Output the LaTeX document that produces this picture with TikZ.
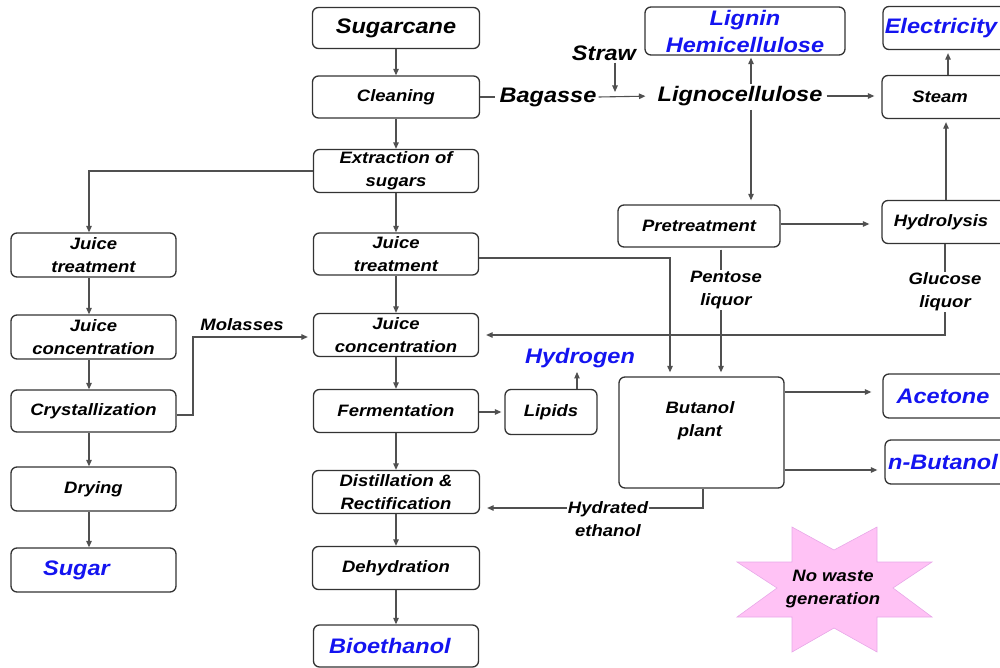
\documentclass[tikz,border=0pt]{standalone}
\usepackage{fontspec}
\setmainfont{Liberation Sans}[FakeStretch=1.12]
\usetikzlibrary{arrows.meta}
\definecolor{boxc}{HTML}{333333}
\definecolor{linec}{HTML}{505050}
\definecolor{prodblue}{HTML}{1414F0}
\definecolor{starfill}{HTML}{FFC2F5}
\definecolor{stardraw}{HTML}{E8A8E8}
\newcommand\ntxt{\fontsize{16.5}{23}\selectfont\bfseries\itshape}
\newcommand\btxt{\fontsize{21}{27}\selectfont\bfseries\itshape}
\begin{document}
\begin{tikzpicture}[x=1pt,y=-1pt,
  box/.style={draw=boxc, line width=1.3pt, rounded corners=6pt, inner sep=0pt, align=center, font=\ntxt, text=black},
  lbl/.style={align=center, font=\ntxt, inner sep=1pt},
  big/.style={font=\btxt, inner sep=2pt},
  prod/.style={font=\btxt, text=prodblue},
  arr/.style={draw=linec, line width=1.1pt, -{Triangle[length=6.5pt,width=5.5pt]}},
  ln/.style={draw=linec, line width=1.1pt}]
\useasboundingbox (0,0) rectangle (1000,668);
\clip (0,0) rectangle (1000,668);

% middle column
\node[box, font=\btxt, minimum width=167pt, minimum height=41pt] (sc) at (396,28) {Sugarcane};
\node[box, minimum width=167pt, minimum height=42pt] (cl) at (396,97) {Cleaning};
\node[box, minimum width=165pt, minimum height=43pt] (ext) at (396,171) {Extraction of\\sugars};
\node[box, minimum width=165pt, minimum height=42pt] (jtm) at (396,254) {Juice\\treatment};
\node[box, minimum width=165pt, minimum height=43pt] (jcm) at (396,335) {Juice\\concentration};
\node[box, minimum width=165pt, minimum height=43pt] (fer) at (396,411) {Fermentation};
\node[box, minimum width=167pt, minimum height=43pt] (dist) at (396,492) {Distillation \&\\Rectification};
\node[box, minimum width=167pt, minimum height=43pt] (deh) at (396,568) {Dehydration};
\node[box, prod, minimum width=165pt, minimum height=42pt] (bio) at (396,646) {Bioethanol\hspace{12pt}};

% left column
\node[box, minimum width=165pt, minimum height=44pt] (jtl) at (93.5,255) {Juice\\treatment};
\node[box, minimum width=165pt, minimum height=44pt] (jcl) at (93.5,337) {Juice\\concentration};
\node[box, minimum width=165pt, minimum height=42pt] (cry) at (93.5,411) {Crystallization};
\node[box, minimum width=165pt, minimum height=44pt] (dry) at (93.5,489) {Drying};
\node[box, prod, minimum width=165pt, minimum height=44pt] (sug) at (93.5,570) {Sugar\hspace{34pt}};

% right part
\node[box, prod, minimum width=200pt, minimum height=48pt] (lh) at (745,31) {Lignin\\Hemicellulose};
\node[box, prod, minimum width=126pt, minimum height=43pt] (elec) at (946,28) {Electricity\hspace{10pt}};
\node[box, minimum width=128pt, minimum height=43pt] (steam) at (946,97) {Steam\hspace{12pt}};
\node[box, minimum width=162pt, minimum height=42pt] (pre) at (699,226) {Pretreatment};
\node[box, minimum width=128pt, minimum height=43pt] (hyd) at (946,222) {Hydrolysis\hspace{10pt}};
\node[box, minimum width=92pt, minimum height=45pt] (lip) at (551,412) {Lipids};
\node[box, minimum width=165pt, minimum height=111pt] (bp) at (701.5,432.5) {};
\node[lbl] (bptxt) at (700,421) {Butanol\\plant};
\node[box, prod, minimum width=126pt, minimum height=44pt] (ace) at (946,396) {Acetone\hspace{6pt}};
\node[box, prod, minimum width=126pt, minimum height=44pt] (nbu) at (948,462) {n-Butanol\hspace{10pt}};

% labels
\node[big] (straw) at (604,53) {Straw};
\node[big] (bag) at (548,97) {Bagasse};
\node[big] (lig) at (740,96) {Lignocellulose};
\node[lbl] (pent) at (726,290) {Pentose\\liquor};
\node[lbl] (glu) at (945,292) {Glucose\\liquor};
\node[lbl] (mol) at (242,325) {Molasses};
\node[prod, inner sep=2pt] (hyg) at (580,358) {Hydrogen};
\node[lbl] (hyde) at (608,519) {Hydrated\\ethanol};

% star
\filldraw[fill=starfill, draw=stardraw, line width=0.6pt]
  (792,527) -- (834,550) -- (877,527) -- (877,562) -- (932,562) -- (893,588) --
  (932,617) -- (877,617) -- (877,652) -- (834,628) -- (792,652) -- (792,617) --
  (737,617) -- (777,588) -- (737,562) -- (792,562) -- cycle;
\node[lbl] (nowaste) at (833,589) {No waste\\generation};

% middle column arrows
\draw[arr] (sc) -- (cl);
\draw[arr] (cl) -- (ext);
\draw[arr] (ext) -- (jtm);
\draw[arr] (jtm) -- (jcm);
\draw[arr] (jcm) -- (fer);
\draw[arr] (fer) -- (dist);
\draw[arr] (dist) -- (deh);
\draw[arr] (deh) -- (bio);

% left column arrows
\draw[arr] (ext.west) -- (89,171) -- (jtl.north -| 89,0);
\draw[arr] (jtl.south -| 89,0) -- (jcl.north -| 89,0);
\draw[arr] (jcl.south -| 89,0) -- (cry.north -| 89,0);
\draw[arr] (cry.south -| 89,0) -- (dry.north -| 89,0);
\draw[arr] (dry.south -| 89,0) -- (sug.north -| 89,0);
\draw[arr, shorten >=5pt] (cry.east |- 0,415) -- (193,415) -- (193,337) -- (jcm.west |- 0,337);

% bagasse / lignocellulose
\draw[ln, shorten >=2pt] (cl.east) -- (bag.west);
\draw[arr, shorten >=10pt] (bag.east) -- (lig.west);
\draw[arr] (straw.south -| 615,0) -- (615,92);
\draw[arr, shorten >=2pt] (lig.north -| 751,0) -- (lh.south -| 751,0);
\draw[arr, shorten <=2pt, shorten >=7pt] (lig.east) -- (steam.west |- lig.east);
\draw[arr, shorten <=2pt, shorten >=4pt] (lig.south -| 751,0) -- (pre.north -| 751,0);
\draw[arr, shorten >=3pt] (steam.north -| 948,0) -- (elec.south -| 948,0);
\draw[arr, shorten >=3pt] (hyd.north -| 946,0) -- (steam.south -| 946,0);
\draw[arr, shorten >=12pt] (pre.east |- 0,224) -- (hyd.west |- 0,224);

% liquors
\draw[ln] (hyd.south -| 945,0) -- (glu.north -| 945,0);
\draw[arr, shorten >=7pt] (glu.south -| 945,0) -- (945,335) -- (jcm.east |- 0,335);
\draw[ln, shorten <=2pt] (pre.south -| 721,0) -- (pent.north -| 721,0);
\draw[arr, shorten >=4pt] (pent.south -| 721,0) -- (bp.north -| 721,0);
\draw[arr, shorten >=4pt] (jtm.east |- 0,258) -- (670,258) -- (bp.north -| 670,0);

% fermentation side
\draw[arr, shorten >=3pt] (fer.east |- 0,412) -- (lip.west |- 0,412);
\draw[arr, shorten >=2pt] (lip.north -| 577,0) -- (hyg.south -| 577,0);

% butanol plant outputs
\draw[arr, shorten >=11pt] (bp.east |- 0,392) -- (ace.west |- 0,392);
\draw[arr, shorten >=7pt] (bp.east |- 0,470) -- (nbu.west |- 0,470);
\draw[ln] (bp.south -| 703,0) -- (703,508) -- (hyde.east |- 0,508);
\draw[arr, shorten >=7pt] (hyde.west |- 0,508) -- (dist.east |- 0,508);
\end{tikzpicture}
\end{document}
